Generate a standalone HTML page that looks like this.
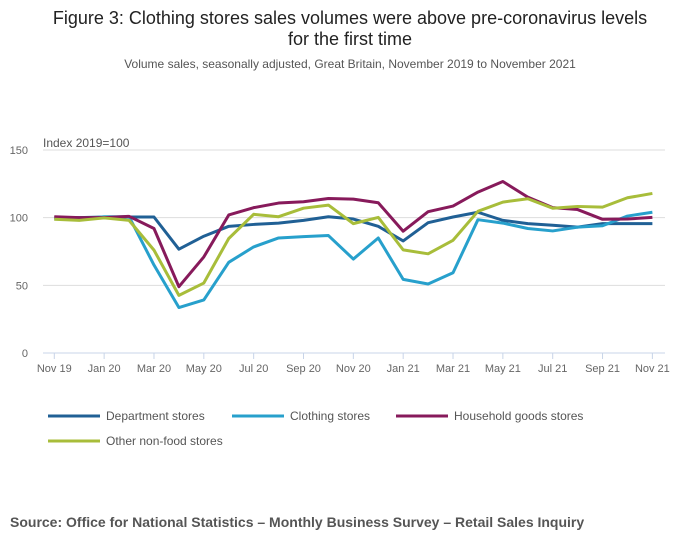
<!DOCTYPE html>
<html><head><meta charset="utf-8"><style>
body{margin:0;background:#fff;font-family:"Liberation Sans",sans-serif;}
svg{display:block}
</style></head><body>
<svg width="700" height="549" id="c">
<text x="350" y="24" text-anchor="middle" font-size="18" fill="#222">Figure 3: Clothing stores sales volumes were above pre-coronavirus levels</text>
<text x="350" y="45" text-anchor="middle" font-size="18" fill="#222">for the first time</text>
<text x="350" y="68" text-anchor="middle" font-size="12" fill="#555">Volume sales, seasonally adjusted, Great Britain, November 2019 to November 2021</text>
<text x="43" y="147" font-size="12" fill="#555">Index 2019=100</text>
<g id="grid"></g><g id="series"></g><g id="legend"></g>
<text x="10" y="527" font-size="14" font-weight="bold" fill="#555">Source: Office for National Statistics – Monthly Business Survey – Retail Sales Inquiry</text>
</svg>
<script>
const months=["Nov 19","Dec 19","Jan 20","Feb 20","Mar 20","Apr 20","May 20","Jun 20","Jul 20","Aug 20","Sep 20","Oct 20","Nov 20","Dec 20","Jan 21","Feb 21","Mar 21","Apr 21","May 21","Jun 21","Jul 21","Aug 21","Sep 21","Oct 21","Nov 21"];
const yTicks=[0,50,100,150];
const department=[100,100,100.5,100.5,100.5,76.7,86.3,93.6,95,96,98,100.7,99,93.6,82.8,96.3,100.5,104,98,95.6,94.4,93,95.6,95.6,95.6];
const clothing=[99,98.8,100.7,100.7,65,33.6,39.2,67,78.4,85,86,86.8,69.4,85,54.4,51,59.3,98.5,96,92,90.2,93,94,101.2,104];
const household=[100.7,100,100,101,92,49,71,102,107.4,110.8,111.8,114.2,113.7,111,90,104.4,108.6,118.9,126.7,115.2,107.4,106,98.8,99,100.2];
const otherNonFood=[98.8,98,99.8,98,76,42.6,51.7,84.6,102.5,100.7,107,109.3,95.6,100.2,76.2,73.3,83.3,104.7,111.5,114,107,108.3,107.8,114.7,117.9];
const NS="http://www.w3.org/2000/svg";
const X=i=>54.3+i*24.92, Y=v=>353-v*1.3533;
function mk(t,a,p){const e=document.createElementNS(NS,t);for(const k in a)e.setAttribute(k,a[k]);p.appendChild(e);return e;}
const g=document.getElementById('grid');
yTicks.forEach(v=>{
  const l=mk('line',{x1:43,x2:665,y1:Y(v),y2:Y(v),stroke:v===0?'#c8d4e8':'#ddd','stroke-width':1},g);
  
  
  const t=mk('text',{x:28,y:Y(v)+4,'text-anchor':'end','font-size':11,fill:'#666'},g);
  t.textContent=v;
  
  
});
months.forEach((m,i)=>{
  if(i%2)return;
  const l=mk('line',{x1:X(i),x2:X(i),y1:353,y2:359,stroke:'#c8d4e8'},g);
  
  
  const t=mk('text',{x:X(i),y:372,'text-anchor':'middle','font-size':11,fill:'#666'},g);
  t.textContent=m;
  
  
});
const series=[["Department stores",department,"#206095"],["Clothing stores",clothing,"#27a0cc"],["Household goods stores",household,"#871a5b"],["Other non-food stores",otherNonFood,"#a8bd3a"]];
const s=document.getElementById('series');
series.forEach(([n,d,c])=>{
  const p=mk('polyline',{points:d.map((v,i)=>X(i)+','+Y(v)).join(' '),fill:'none',stroke:c,'stroke-width':3,'stroke-linejoin':'round'},s);
  
  
});
const lg=document.getElementById('legend');
const pos=[[48,416],[232,416],[396,416],[48,441]];
series.forEach(([n,d,c],i)=>{
  const [x,y]=pos[i];
  const l=mk('line',{x1:x,x2:x+52,y1:y,y2:y,stroke:c,'stroke-width':3},lg);
  
  
  const t=mk('text',{x:x+58,y:y+4,'font-size':12,fill:'#555'},lg);
  t.textContent=n;
  
  
});
</script>
</body></html>
